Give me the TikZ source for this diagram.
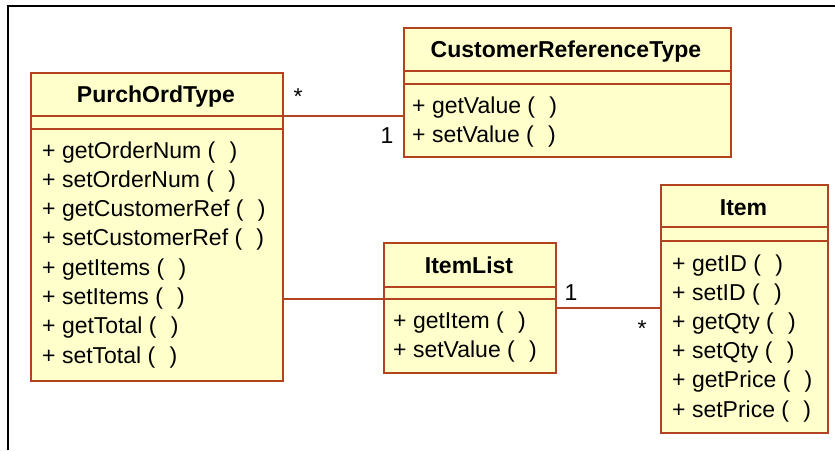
\documentclass[tikz,border=0pt]{standalone}
\usepackage{fontspec}
\setmainfont{Liberation Sans}
\usetikzlibrary{calc}
\definecolor{umlborder}{RGB}{178,66,32}
\definecolor{umlfill}{RGB}{255,255,204}
\tikzset{
  x=1pt, y=-1pt,
  classbox/.style={draw=umlborder, fill=umlfill, line width=1.8pt, inner sep=0pt, anchor=north west},
  sepline/.style={draw=umlborder, line width=1.8pt},
  assoc/.style={draw=umlborder, line width=1.8pt},
  classname/.style={font=\fontsize{23}{29}\selectfont\bfseries, inner sep=0pt, anchor=base},
  method/.style={font=\fontsize{23}{29}\selectfont, inner sep=0pt, anchor=base west},
  mult/.style={font=\fontsize{23}{29}\selectfont, inner sep=0pt, anchor=base},
}
\newcommand{\op}[1]{+ #1 (\hspace{0.62em})}
\begin{document}
\begin{tikzpicture}
\useasboundingbox (0,0) rectangle (835,450);
\fill[white] (0,0) rectangle (835,450);
% frame edges
\draw[black, line width=1.3pt] (8,450) -- (8,6) -- (835,6);

% PurchOrdType
\node[classbox, minimum width=252pt, minimum height=308pt] (pot) at (30,72) {};
\coordinate (potA) at ($(pot.north west)+(0,44)$);
\coordinate (potB) at ($(pot.north west)+(0,57)$);
\draw[sepline] (potA) -- (potA -| pot.east);
\draw[sepline] (potB) -- (potB -| pot.east);
\node[classname] (potname) at (156,102) {PurchOrdType};
\foreach \t [count=\i] in {getOrderNum,setOrderNum,getCustomerRef,setCustomerRef,getItems,setItems,getTotal,setTotal}
  \node[method] (pot-m\i) at (42,{158+(\i-1)*29.3}) {\op{\t}};

% CustomerReferenceType
\node[classbox, minimum width=327pt, minimum height=129pt] (crt) at (403,27) {};
\coordinate (crtA) at ($(crt.north west)+(0,44)$);
\coordinate (crtB) at ($(crt.north west)+(0,57)$);
\draw[sepline] (crtA) -- (crtA -| crt.east);
\draw[sepline] (crtB) -- (crtB -| crt.east);
\node[classname] (crtname) at (566,57) {CustomerReferenceType};
\foreach \t [count=\i] in {getValue,setValue}
  \node[method] (crt-m\i) at (412,{113+(\i-1)*29}) {\op{\t}};

% ItemList
\node[classbox, minimum width=172pt, minimum height=130pt] (il) at (383,242) {};
\coordinate (ilA) at ($(il.north west)+(0,45)$);
\coordinate (ilB) at ($(il.north west)+(0,57)$);
\draw[sepline] (ilA) -- (ilA -| il.east);
\draw[sepline] (ilB) -- (ilB -| il.east);
\node[classname] (ilname) at (469,273) {ItemList};
\foreach \t [count=\i] in {getItem,setValue}
  \node[method] (il-m\i) at (393,{328+(\i-1)*29}) {\op{\t}};

% Item
\node[classbox, minimum width=167pt, minimum height=248pt] (item) at (660,184) {};
\coordinate (itemA) at ($(item.north west)+(0,43)$);
\coordinate (itemB) at ($(item.north west)+(0,57)$);
\draw[sepline] (itemA) -- (itemA -| item.east);
\draw[sepline] (itemB) -- (itemB -| item.east);
\node[classname] (itemname) at (743.5,215) {Item};
\foreach \t [count=\i] in {getID,setID,getQty,setQty,getPrice,setPrice}
  \node[method] (item-m\i) at (672,{271+(\i-1)*29.2}) {\op{\t}};

% associations
\draw[assoc] (pot.east |- potA) -- (crt.west |- potA);
\draw[assoc] (pot.east |- ilB) -- (il.west |- ilB);
\coordinate (ilitem) at ($(il.north east)+(0,66)$);
\draw[assoc] (ilitem) -- (item.west |- ilitem);

% multiplicities
\node[mult] (m1) at (298,104) {*};
\node[mult] (m2) at (387,143) {1};
\node[mult] (m3) at (571,300) {1};
\node[mult] (m4) at (642,336) {*};
\end{tikzpicture}
\end{document}
